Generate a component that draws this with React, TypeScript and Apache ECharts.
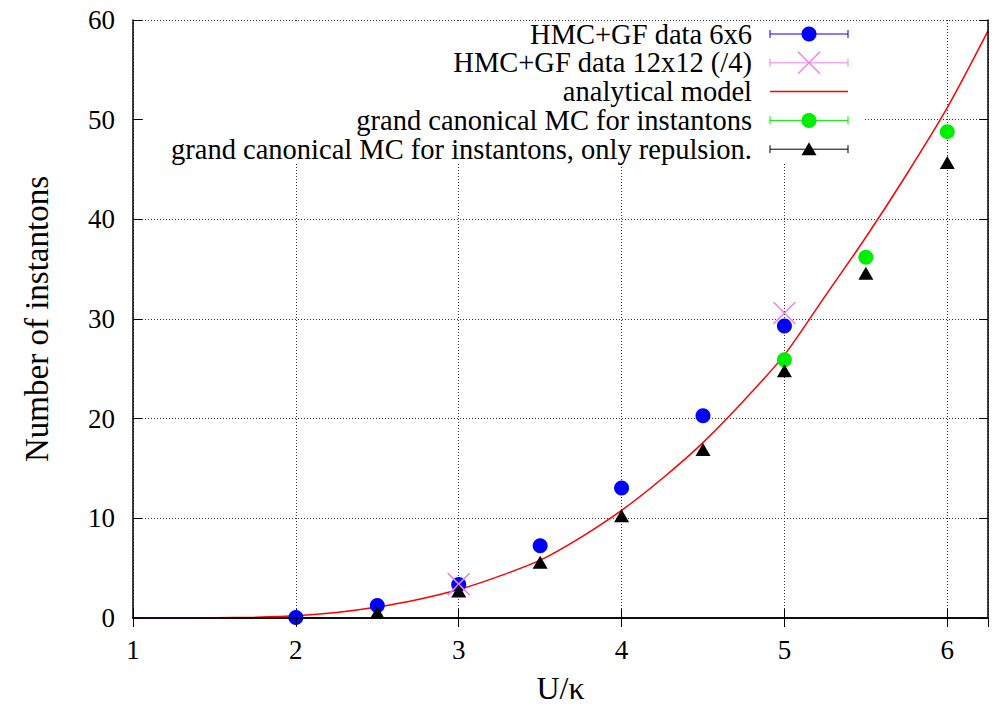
import React, { useEffect, useRef } from 'react';
import * as echarts from 'echarts';

// ---- data ----
const hmc6X = [2, 2.5, 3, 3.5, 4, 4.5, 5];
const hmc6Y = [0.05, 1.25, 3.35, 7.25, 13.05, 20.3, 29.3];

const hmc12X = [3, 5];
const hmc12Y = [3.4, 30.6];

const modelX = [1, 1.25, 1.5, 1.75, 2, 2.25, 2.5, 2.75, 3, 3.25, 3.5, 3.75, 4, 4.25, 4.5, 4.75, 5, 5.25, 5.5, 5.75, 6, 6.25];
const modelY = [0, 0.0, 0.02, 0.08, 0.22, 0.55, 1.1, 1.85, 2.85, 4.2, 5.8, 8.1, 10.8, 14.0, 17.6, 21.8, 26.4, 32.3, 38.2, 44.5, 51.2, 58.9];

const gcX = [5, 5.5, 6];
const gcY = [25.9, 36.2, 48.8];

const repX = [2.5, 3, 3.5, 4, 4.5, 5, 5.5, 6];
const repY = [0.55, 2.7, 5.6, 10.25, 16.9, 24.8, 34.6, 45.7];

const legendLabels = [
  'HMC+GF data 6x6',
  'HMC+GF data 12x12 (/4)',
  'analytical model',
  'grand canonical MC for instantons',
  'grand canonical MC for instantons, only repulsion.',
];
const seriesColors = ['#0000ff', '#ee82ee', '#ff0000', '#00ee00', '#000000'];

const xTitle = 'U/κ';
const yTitle = 'Number of instantons';

const FONT = '"Liberation Serif", "Times New Roman", serif';

const zip = (xs: number[], ys: number[]) => xs.map((x, i) => [x, ys[i]]);

export default function App() {
  const ref = useRef<HTMLDivElement>(null);

  useEffect(() => {
    if (!ref.current) return;
    const chart = echarts.init(ref.current, undefined, { renderer: 'svg' });

    const gridL = 133, gridT = 20, gridR = 18, gridB = 88;

    // legend graphic
    const lx0 = 770, lx1 = 848, lmid = 809, textX = 752;
    const rowY = (i: number) => 34 + i * 28.8;
    const legendEls: any[] = [];
    legendEls.push({
      type: 'rect', z: 1, silent: true,
      shape: { x: 145, y: 21, width: 720, height: 142 },
      style: { fill: '#ffffff' },
    });
    legendLabels.forEach((label, i) => {
      const y = rowY(i);
      const c = seriesColors[i];
      legendEls.push({
        type: 'text', z: 2, x: textX, y: y,
        style: { text: label, fill: '#000', font: `28.5px ${FONT}`, align: 'right', verticalAlign: 'middle' },
      });
      legendEls.push({
        type: 'line', z: 2,
        shape: { x1: lx0, y1: y, x2: lx1, y2: y },
        style: { stroke: c, lineWidth: i === 2 ? 1.5 : 1 },
      });
      if (i !== 2) {
        legendEls.push({ type: 'line', z: 2, shape: { x1: lx0, y1: y - 4, x2: lx0, y2: y + 4 }, style: { stroke: c, lineWidth: 1 } });
        legendEls.push({ type: 'line', z: 2, shape: { x1: lx1, y1: y - 4, x2: lx1, y2: y + 4 }, style: { stroke: c, lineWidth: 1 } });
      }
      if (i === 0 || i === 3) {
        legendEls.push({ type: 'circle', z: 3, shape: { cx: lmid, cy: y, r: 7.5 }, style: { fill: c } });
      } else if (i === 1) {
        legendEls.push({ type: 'line', z: 3, shape: { x1: lmid - 11, y1: y - 11, x2: lmid + 11, y2: y + 11 }, style: { stroke: c, lineWidth: 1.5 } });
        legendEls.push({ type: 'line', z: 3, shape: { x1: lmid - 11, y1: y + 11, x2: lmid + 11, y2: y - 11 }, style: { stroke: c, lineWidth: 1.5 } });
      } else if (i === 4) {
        legendEls.push({ type: 'polygon', z: 3, shape: { points: [[lmid - 7.5, y + 6], [lmid + 7.5, y + 6], [lmid, y - 7]] }, style: { fill: c } });
      }
    });

    const dotted = { show: true, lineStyle: { color: '#333', type: [1, 2] as any, width: 1 } };
    const frameLine = { show: true, lineStyle: { color: '#000', width: 1.5 } };
    const tick = { show: true, inside: true, length: 9, lineStyle: { color: '#000', width: 1 } };

    chart.setOption({
      animation: false,
      backgroundColor: '#ffffff',
      grid: { left: gridL, top: gridT, right: gridR, bottom: gridB, containLabel: false },
      xAxis: [
        {
          type: 'value', min: 1, max: 6.25, interval: 1, position: 'bottom',
          name: xTitle, nameLocation: 'middle', nameGap: 54,
          nameTextStyle: { fontFamily: FONT, fontSize: 32, color: '#000' },
          axisLine: frameLine, axisTick: tick, splitLine: dotted,
          axisLabel: { show: true, margin: 18, fontFamily: FONT, fontSize: 27, color: '#000', showMaxLabel: false, showMinLabel: true },
          z: 0,
        },
        {
          type: 'value', min: 1, max: 6.25, interval: 1, position: 'top',
          axisLine: frameLine, axisTick: tick, splitLine: { show: false },
          axisLabel: { show: false }, z: 5,
        },
      ],
      yAxis: [
        {
          type: 'value', min: 0, max: 60, interval: 10, position: 'left',
          name: yTitle, nameLocation: 'middle', nameGap: 80, nameRotate: 90,
          nameTextStyle: { fontFamily: FONT, fontSize: 33, color: '#000' },
          axisLine: frameLine, axisTick: tick, splitLine: dotted,
          axisLabel: { show: true, margin: 18, fontFamily: FONT, fontSize: 27, color: '#000' },
          z: 0,
        },
        {
          type: 'value', min: 0, max: 60, interval: 10, position: 'right',
          axisLine: frameLine, axisTick: tick, splitLine: { show: false },
          axisLabel: { show: false }, z: 5,
        },
      ],
      graphic: { elements: legendEls },
      series: [
        {
          name: legendLabels[0], type: 'scatter', z: 3,
          data: zip(hmc6X, hmc6Y), symbol: 'circle', symbolSize: 15,
          itemStyle: { color: seriesColors[0], opacity: 1 },
        },
        {
          name: legendLabels[1], type: 'scatter', z: 3,
          data: zip(hmc12X, hmc12Y), symbol: 'path://M0,0L22,22M22,0L0,22', symbolSize: 22,
          itemStyle: { color: 'rgba(0,0,0,0)', borderColor: seriesColors[1], borderWidth: 1.5, opacity: 1 },
        },
        {
          name: legendLabels[2], type: 'line', z: 3,
          data: zip(modelX, modelY), showSymbol: false, symbol: 'none', smooth: 0.3,
          lineStyle: { color: seriesColors[2], width: 1.5 },
        },
        {
          name: legendLabels[3], type: 'scatter', z: 3,
          data: zip(gcX, gcY), symbol: 'circle', symbolSize: 15,
          itemStyle: { color: seriesColors[3], opacity: 1 },
        },
        {
          name: legendLabels[4], type: 'scatter', z: 3,
          data: zip(repX, repY), symbol: 'triangle', symbolSize: [15, 13],
          itemStyle: { color: seriesColors[4], opacity: 1 },
        },
      ],
    });

    return () => chart.dispose();
  }, []);

  return (
    <div
      ref={ref}
      style={{ position: 'absolute', left: 0, top: 0, width: 1006, height: 709, background: '#fff' }}
    />
  );
}
